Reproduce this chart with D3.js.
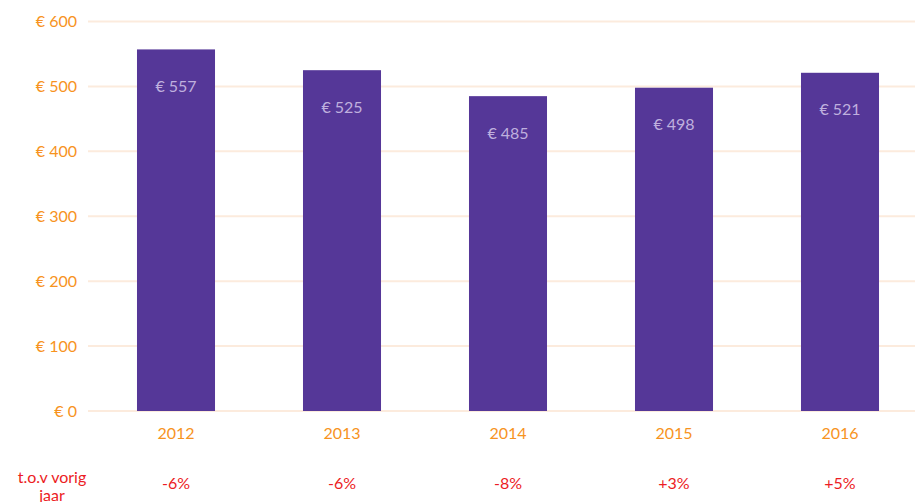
<!DOCTYPE html>
<meta charset="utf-8">
<style>
body {
  margin: 0;
  background: #fff;
}
text {
  font-family: Lato, "Open Sans", sans-serif;
}
.grid line {
  stroke: #fcebdd;
  stroke-width: 2px;
}
.tick-label {
  fill: #f7931e;
  font-size: 16px;
}
.bar {
  fill: #553798;
}
.bar-label {
  fill: #bfb0de;
  font-size: 16px;
}
.change {
  fill: #ec1c24;
  font-size: 16px;
}
</style>
<body>
<script src="https://d3js.org/d3.v7.min.js"></script>
<script>
var width = 915,
    height = 502;

var years = ["2012", "2013", "2014", "2015", "2016"];
var values = [557, 525, 485, 498, 521];
var changes = ["-6%", "-6%", "-8%", "+3%", "+5%"];
var yTicks = [0, 100, 200, 300, 400, 500, 600];
var rowLabel = ["t.o.v vorig", "jaar"];

var svg = d3.select("body").append("svg")
  .attr("width", width)
  .attr("height", height);

var x = d3.scaleBand()
    .domain(years)
    .range([93, 923])
    .paddingInner(0.53)
    .paddingOuter(0.265);

var y = d3.scaleLinear()
    .domain([0, 600])
    .range([411, 21.5]);

// gridlines
svg.append("g")
    .attr("class", "grid")
  .selectAll("line")
  .data(yTicks)
  .enter().append("line")
    .attr("x1", 88)
    .attr("x2", width)
    .attr("y1", function(d) { return y(d); })
    .attr("y2", function(d) { return y(d); });

// y tick labels
svg.append("g")
  .selectAll("text")
  .data(yTicks)
  .enter().append("text")
    .attr("class", "tick-label")
    .attr("x", 77)
    .attr("y", function(d) { return y(d); })
    .attr("dy", "0.35em")
    .attr("text-anchor", "end")
    .text(function(d) { return "€ " + d; });

// bars
svg.append("g")
  .selectAll("rect")
  .data(values)
  .enter().append("rect")
    .attr("class", "bar")
    .attr("x", function(d, i) { return x(years[i]); })
    .attr("width", x.bandwidth())
    .attr("y", function(d) { return y(d); })
    .attr("height", function(d) { return y(0) - y(d); });

// value labels inside bars
svg.append("g")
  .selectAll("text")
  .data(values)
  .enter().append("text")
    .attr("class", "bar-label")
    .attr("x", function(d, i) { return x(years[i]) + x.bandwidth() / 2; })
    .attr("y", function(d) { return y(d) + 37; })
    .attr("dy", "0.35em")
    .attr("text-anchor", "middle")
    .text(function(d) { return "€ " + d; });

// year labels
svg.append("g")
  .selectAll("text")
  .data(years)
  .enter().append("text")
    .attr("class", "tick-label")
    .attr("x", function(d) { return x(d) + x.bandwidth() / 2; })
    .attr("y", 433)
    .attr("dy", "0.35em")
    .attr("text-anchor", "middle")
    .text(function(d) { return d; });

// change vs previous year
svg.append("g")
  .selectAll("text")
  .data(changes)
  .enter().append("text")
    .attr("class", "change")
    .attr("x", function(d, i) { return x(years[i]) + x.bandwidth() / 2; })
    .attr("y", 483)
    .attr("dy", "0.35em")
    .attr("text-anchor", "middle")
    .text(function(d) { return d; });

svg.append("g")
  .selectAll("text")
  .data(rowLabel)
  .enter().append("text")
    .attr("class", "change")
    .attr("x", 52)
    .attr("y", function(d, i) { return 477 + i * 18; })
    .attr("dy", "0.35em")
    .attr("text-anchor", "middle")
    .text(function(d) { return d; });
</script>
